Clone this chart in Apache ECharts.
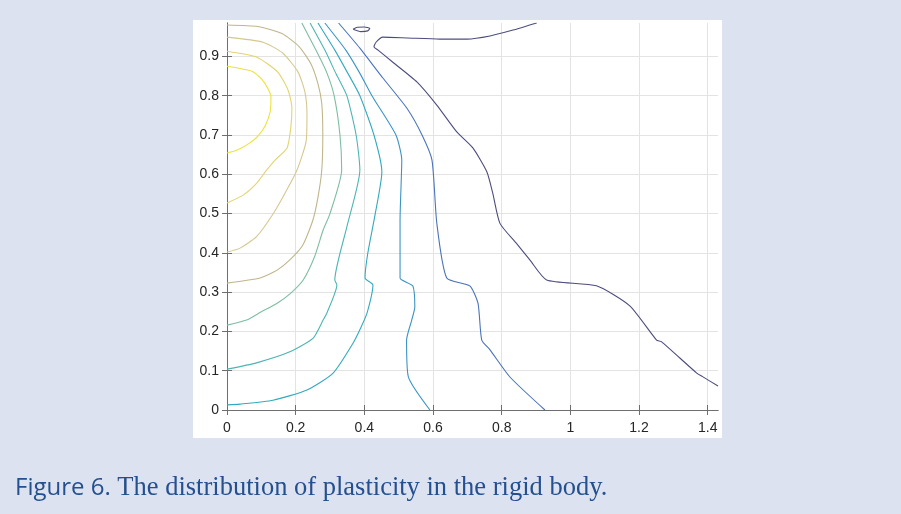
<!DOCTYPE html>
<html>
<head>
<meta charset="utf-8">
<title>Figure 6</title>
<script src="https://cdn.jsdelivr.net/npm/echarts@6/dist/echarts.min.js"></script>
<style>
  html, body { margin: 0; padding: 0; background: #dde2f0; }
  #chart { width: 901px; height: 514px; }
</style>
</head>
<body>
<div id="chart"></div>
<script>
'use strict';

// axis limits (data units) and tick positions
var xMax = 1.43;
var yMax = 0.985;
var xTicks = [0, 0.2, 0.4, 0.6, 0.8, 1, 1.2, 1.4];
var yTicks = [0, 0.1, 0.2, 0.3, 0.4, 0.5, 0.6, 0.7, 0.8, 0.9];

// contour lines, innermost (yellow) to outermost (navy)
var contour1 = [[0, 0.875], [0.073, 0.862], [0.105, 0.838], [0.119, 0.818], [0.128, 0.798], [0.126, 0.76],
  [0.112, 0.725], [0.09, 0.697], [0.06, 0.676], [0.03, 0.662], [0, 0.654]];
var contour2 = [[0, 0.913], [0.087, 0.898], [0.148, 0.86], [0.178, 0.814], [0.189, 0.769], [0.186, 0.72],
  [0.175, 0.667], [0.14, 0.636], [0.116, 0.611], [0.086, 0.577], [0.047, 0.547], [0, 0.527]];
var contour3 = [[0, 0.949], [0.105, 0.936], [0.163, 0.908], [0.207, 0.86], [0.227, 0.809], [0.233, 0.751],
  [0.23, 0.682], [0.204, 0.611], [0.174, 0.56], [0.135, 0.5], [0.086, 0.441], [0.038, 0.412], [0, 0.402]];
var contour4 = [[0, 0.98], [0.09, 0.976], [0.16, 0.958], [0.21, 0.925], [0.245, 0.88], [0.265, 0.83],
  [0.276, 0.78], [0.279, 0.7], [0.276, 0.611], [0.265, 0.542], [0.25, 0.483], [0.221, 0.42],
  [0.183, 0.382], [0.146, 0.356], [0.096, 0.336], [0, 0.323]];
var contour5 = [[0.218, 0.985], [0.259, 0.916], [0.29, 0.86], [0.312, 0.8], [0.329, 0.7], [0.334, 0.611],
  [0.3, 0.5], [0.28, 0.458], [0.255, 0.39], [0.222, 0.331], [0.185, 0.297], [0.145, 0.271],
  [0.1, 0.25], [0.057, 0.229], [0, 0.216]];
var contour6 = [[0.242, 0.985], [0.285, 0.916], [0.318, 0.855], [0.349, 0.8], [0.376, 0.7], [0.387, 0.611],
  [0.349, 0.466], [0.314, 0.331], [0.32, 0.318], [0.291, 0.247], [0.28, 0.229], [0.251, 0.183],
  [0.183, 0.148], [0.086, 0.12], [0, 0.104]];
var contour7 = [[0.265, 0.985], [0.314, 0.916], [0.35, 0.86], [0.387, 0.8], [0.428, 0.7], [0.451, 0.606],
  [0.431, 0.496], [0.41, 0.399], [0.402, 0.336], [0.425, 0.318], [0.408, 0.247], [0.39, 0.21],
  [0.367, 0.17], [0.309, 0.094], [0.233, 0.051], [0.134, 0.025], [0.038, 0.015], [0, 0.013]];
var contour8 = [[0.285, 0.985], [0.346, 0.916], [0.385, 0.86], [0.422, 0.8], [0.492, 0.7], [0.509, 0.636],
  [0.504, 0.483], [0.504, 0.336], [0.541, 0.316], [0.547, 0.262], [0.538, 0.229], [0.523, 0.178],
  [0.528, 0.085], [0.591, 0]];
var contour9 = [[0.325, 0.985], [0.387, 0.921], [0.454, 0.845], [0.524, 0.768], [0.568, 0.7], [0.597, 0.636],
  [0.611, 0.476], [0.64, 0.336], [0.707, 0.316], [0.731, 0.272], [0.742, 0.178], [0.766, 0.153],
  [0.824, 0.084], [0.926, 0]];
var contour10 = [[0.902, 0.985], [0.833, 0.967], [0.766, 0.952], [0.699, 0.944], [0.62, 0.944], [0.524, 0.947],
  [0.454, 0.949], [0.434, 0.936], [0.428, 0.924], [0.44, 0.916], [0.483, 0.885], [0.553, 0.835],
  [0.611, 0.776], [0.67, 0.707], [0.716, 0.667], [0.757, 0.606], [0.774, 0.552], [0.795, 0.475],
  [0.843, 0.424], [0.882, 0.382], [0.931, 0.331], [1.076, 0.316], [1.173, 0.265], [1.251, 0.178],
  [1.265, 0.174], [1.368, 0.094], [1.385, 0.085], [1.43, 0.061]];
// small island of the outermost level near the top edge
var island10 = [[0.367, 0.969], [0.38, 0.974], [0.4, 0.975], [0.416, 0.971], [0.41, 0.965], [0.39, 0.963],
  [0.367, 0.969]];

var contours = [contour1, contour2, contour3, contour4, contour5, contour6, contour7, contour8, contour9, contour10, island10];
var levelColors = ['#ece33a', '#e2d571', '#d5c88e', '#c0b68a', '#7dbea2', '#4cb6b2', '#33aabd', '#3a94c4',
  '#4b73bb', '#4c4d7e', '#4c4d7e'];

var caption = 'Figure 6.';
var captionRest = ' The distribution of plasticity in the rigid body.';

var chart = echarts.init(document.getElementById('chart'), null, { renderer: 'canvas' });

var axisColor = '#6e6e6e';
var labelStyle = { color: '#262626', fontSize: 14, fontFamily: 'Liberation Sans, Arial, sans-serif' };

function makeSeries() {
  return contours.map(function (pts, i) {
    return {
      type: 'line',
      data: pts,
      showSymbol: false,
      smooth: 0.2,
      silent: true,
      animation: false,
      lineStyle: { color: levelColors[i], width: 1.1 },
      z: 3
    };
  });
}

function makeAxis(kind, pos, ticks, max, interval, withLabels) {
  return {
    type: 'value', min: 0, max: max, interval: interval, position: pos,
    axisLine: { show: true, lineStyle: { color: axisColor, width: 1 } },
    axisTick: { show: true, inside: true, length: 5, customValues: ticks, lineStyle: { color: axisColor } },
    axisLabel: withLabels
      ? Object.assign({ margin: kind === 'x' ? 11 : 8, customValues: ticks }, labelStyle)
      : { show: false },
    splitLine: { show: withLabels, lineStyle: { color: '#e3e3e3', width: 1 } }
  };
}

var option = {
  animation: false,
  backgroundColor: 'transparent',
  grid: { left: 227, right: 183, top: 23, bottom: 104 },
  graphic: [
    {
      type: 'rect', z: -100, silent: true,
      shape: { x: 193, y: 20, width: 529, height: 418 },
      style: { fill: '#ffffff' }
    },
    {
      type: 'text', left: 15, top: 475, silent: true,
      style: {
        text: '{a|' + caption + '}{b|' + captionRest + '}',
        rich: {
          a: { fontFamily: 'Open Sans, Noto Sans, sans-serif', fontSize: 24, fill: '#24508f' },
          b: { fontFamily: 'Liberation Serif, serif', fontSize: 26.5, fill: '#24508f' }
        }
      }
    }
  ],
  xAxis: [
    makeAxis('x', 'bottom', xTicks, xMax, 0.2, true),
    makeAxis('x', 'top', xTicks, xMax, 0.2, false)
  ],
  yAxis: [
    makeAxis('y', 'left', yTicks, yMax, 0.1, true),
    makeAxis('y', 'right', yTicks, yMax, 0.1, false)
  ],
  series: makeSeries()
};

chart.setOption(option);
</script>
</body>
</html>
